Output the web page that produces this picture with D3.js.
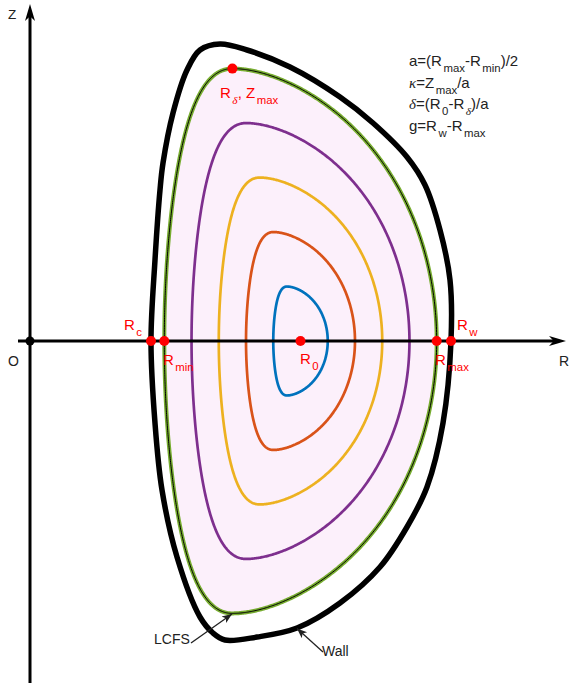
<!DOCTYPE html>
<html><head><meta charset="utf-8">
<script src="https://cdn.jsdelivr.net/npm/d3@7"></script>
<style>html,body{margin:0;padding:0;background:#fff;}svg{display:block;font-family:"Liberation Sans",Arial,sans-serif;}</style>
</head><body>
<svg id="c" width="572" height="683"></svg>
<script>
// ---- data (R, Z in arbitrary length units) ----
const R0 = 2.705;          // magnetic axis
const aMinor = 1.362;      // minor radius of LCFS
const kappa = 2.0;         // elongation
const delta = 0.5;         // triangularity
const zetaOut = 0.10;      // squareness, outboard quadrants
const zetaIn = -0.15;      // squareness, inboard quadrants
const surfaceFractions = [0.2, 0.4, 0.6, 0.8];
const surfaceColors = ["#0072bd", "#d95319", "#edb120", "#7e2f8e"];
const Rc = 1.21, Rw = 4.21;
const wallR = [1.90, 2.17, 2.60, 3.10, 3.43, 3.77, 3.95, 4.10, 4.20, 4.21, 4.13, 3.97, 3.77, 3.50, 3.10, 2.67, 2.27, 1.95, 1.83, 1.70, 1.47, 1.32, 1.25, 1.21, 1.25, 1.30, 1.33, 1.43, 1.57, 1.70];
const wallZ = [2.97, 2.91, 2.74, 2.44, 2.18, 1.84, 1.56, 1.11, 0.61, 0.00, -0.82, -1.46, -1.86, -2.26, -2.62, -2.87, -2.96, -2.99, -2.92, -2.76, -2.16, -1.49, -0.82, 0.00, 0.81, 1.51, 1.78, 2.28, 2.71, 2.91];
const formulaLines = [
  [["a=(R"], ["max","sub"], ["-R"], ["min","sub"], [")/2"]],
  [["κ","it"], ["=Z"], ["max","sub"], ["/a"]],
  [["δ","it"], ["=(R"], ["0","sub"], ["-R"], ["δ","subit"], [")/a"]],
  [["g=R"], ["w","sub"], ["-R"], ["max","sub"]]
];

const Rmin = R0 - aMinor, Rmax = R0 + aMinor;
const Rdelta = R0 - delta * aMinor, Zmax = kappa * aMinor;

const svg = d3.select("#c");
const x = d3.scaleLinear().domain([0, 5.36]).range([30, 566]);
const y = d3.scaleLinear().domain([0, 3.38]).range([341, 3]);

// D-shaped flux surface from (a, kappa, delta, squareness)
function surface(a) {
  const pts = [];
  const sd = Math.asin(delta);
  for (let i = 0; i <= 720; i++) {
    const t = i / 720 * 2 * Math.PI;
    const z = Math.cos(t) >= 0 ? zetaOut : zetaIn;
    pts.push([R0 + a * Math.cos(t + sd * Math.sin(t)), kappa * a * Math.sin(t + z * Math.sin(2 * t))]);
  }
  return pts;
}
const line = d3.line().x(d => x(d[0])).y(d => y(d[1]));
const lcfs = surface(aMinor);

// plasma fill
svg.append("path").attr("d", line(lcfs) + "Z").attr("fill", "#fcf0fb").attr("stroke", "none");

// inner flux surfaces
surfaceFractions.forEach((f, i) => {
  svg.append("path").attr("d", line(surface(f * aMinor)) + "Z")
    .attr("fill", "none").attr("stroke", surfaceColors[i]).attr("stroke-width", 2.7);
});
// LCFS
svg.append("path").attr("d", line(lcfs) + "Z").attr("fill", "none").attr("stroke", "#77ac30").attr("stroke-width", 4);
svg.append("path").attr("d", line(lcfs) + "Z").attr("fill", "none").attr("stroke", "#000").attr("stroke-width", 1);

// wall
const wall = wallR.map((r, i) => [r, wallZ[i]]);
svg.append("path")
  .attr("d", d3.line().x(d => x(d[0])).y(d => y(d[1])).curve(d3.curveCatmullRomClosed.alpha(0.5))(wall))
  .attr("fill", "none").attr("stroke", "#000").attr("stroke-width", 5.5);

// axes
function arrowHead(tx, ty, ang, len, half, color) {
  const c = Math.cos(ang), s = Math.sin(ang);
  const p = (u, v) => [tx + u * c - v * s, ty + u * s + v * c];
  const pts = [p(0, 0), p(-len, half), p(-len * 0.72, 0), p(-len, -half)];
  svg.append("path").attr("d", "M" + pts.map(q => q.join(",")).join("L") + "Z").attr("fill", color);
}
svg.append("line").attr("x1", x(0)).attr("x2", x(0)).attr("y1", 683).attr("y2", y(3.30))
  .attr("stroke", "#000").attr("stroke-width", 3);
arrowHead(x(0), y(3.37), -Math.PI / 2, 17, 5, "#000");
svg.append("line").attr("x1", x(-0.12)).attr("x2", x(5.28)).attr("y1", y(0)).attr("y2", y(0))
  .attr("stroke", "#000").attr("stroke-width", 3);
arrowHead(x(5.36), y(0), 0, 17, 5, "#000");
svg.append("circle").attr("cx", x(0)).attr("cy", y(0)).attr("r", 4.5).attr("fill", "#000");

svg.append("text").attr("x", 8).attr("y", 19).attr("font-size", 13.5).attr("fill", "#222").text("Z");
svg.append("text").attr("x", 8).attr("y", 366).attr("font-size", 14).attr("fill", "#222").text("O");
svg.append("text").attr("x", 559).attr("y", 366).attr("font-size", 14).attr("fill", "#222").text("R");

// red points
const dots = [[Rc, 0], [Rmin, 0], [R0, 0], [Rmax, 0], [Rw, 0], [Rdelta, Zmax]];
svg.selectAll("circle.pt").data(dots).enter().append("circle").attr("class", "pt")
  .attr("cx", d => x(d[0])).attr("cy", d => y(d[1])).attr("r", 5).attr("fill", "#ff0000");

// rich text helper
function rich(px, py, parts, size, color) {
  const t = svg.append("text").attr("x", px).attr("y", py).attr("font-size", size).attr("fill", color);
  let state = 0;
  parts.forEach(([s, kind]) => {
    const sp = t.append("tspan").text(s);
    const isSub = kind === "sub" || kind === "subit";
    if (isSub && state === 0) { sp.attr("dy", 6).attr("dx", 1.5); state = 1; }
    else if (!isSub && state === 1) { sp.attr("dy", -6); state = 0; }
    if (isSub) sp.attr("font-size", size * 0.76);
    if (kind === "it" || kind === "subit") sp.attr("font-style", "italic").attr("font-family", "'Liberation Serif',serif");
  });
  return t;
}
const red = "#ff0000";
rich(124, 330, [["R"], ["c", "sub"]], 15, red);
rich(163, 365, [["R"], ["min", "sub"]], 15, red);
rich(300, 364, [["R"], ["0", "sub"]], 15, red);
rich(435, 365, [["R"], ["max", "sub"]], 15, red);
rich(457, 330, [["R"], ["w", "sub"]], 15, red);
rich(220, 98, [["R"], ["δ", "subit"], [", Z"], ["max", "sub"]], 15, red);

const baselines = [66, 87.5, 109, 130.5];
formulaLines.forEach((ln, i) => rich(409, baselines[i], ln, 15, "#222"));

// annotations
svg.append("defs").append("marker").attr("id", "ah").attr("viewBox", "0 0 10 10")
  .attr("refX", 10).attr("refY", 5).attr("markerWidth", 10).attr("markerHeight", 10)
  .attr("markerUnits", "userSpaceOnUse").attr("orient", "auto")
  .append("path").attr("d", "M0,1 L10,5 L0,9 L2.5,5 Z").attr("fill", "#222");
function annot(x1, y1, x2, y2) {
  svg.append("line").attr("x1", x1).attr("y1", y1).attr("x2", x2).attr("y2", y2)
    .attr("stroke", "#222").attr("stroke-width", 1.3).attr("marker-end", "url(#ah)");
}
annot(191, 643, 232, 614);
annot(323, 652, 297, 628.5);
svg.append("text").attr("x", 154).attr("y", 644).attr("font-size", 14).attr("fill", "#222").text("LCFS");
svg.append("text").attr("x", 322).attr("y", 656).attr("font-size", 14).attr("fill", "#222").text("Wall");
</script>
</body></html>
